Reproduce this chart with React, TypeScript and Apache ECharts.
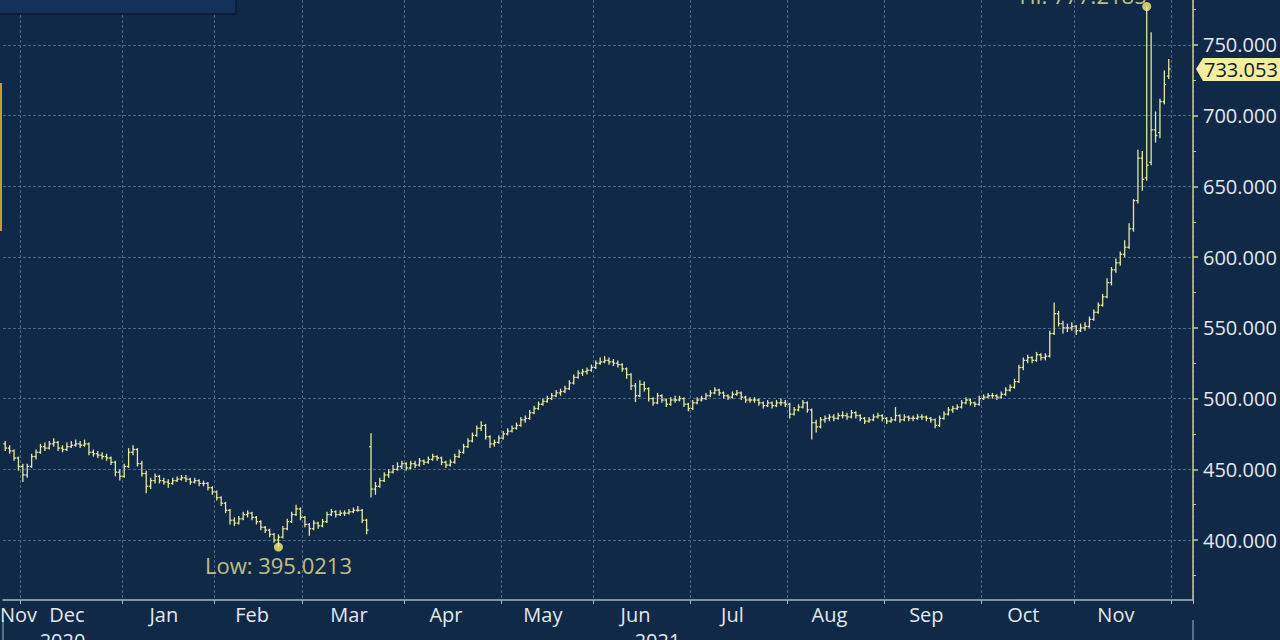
import React, { useEffect, useRef } from 'react';
import * as echarts from 'echarts';

// OHLC rows [open, high, low, close], one per trading day (weekdays)
const nov2020 = [
  [468, 470, 463, 465], [465, 467, 461, 463], [463, 464, 456, 458], [458, 459, 449, 452],
];
const dec2020 = [
  [452, 454, 441, 446], [446, 454, 444, 452], [452, 461, 451, 459], [459, 464, 457, 462],
  [462, 468, 461, 466], [466, 469, 463, 465], [465, 470, 464, 468], [468, 472, 466, 469],
  [469, 470, 463, 465], [465, 467, 462, 464], [464, 469, 463, 466], [466, 470, 465, 467],
  [467, 471, 466, 468], [468, 470, 465, 467], [467, 471, 466, 468], [468, 469, 460, 462],
  [462, 464, 459, 461], [461, 463, 458, 460], [460, 462, 457, 459], [459, 461, 456, 458],
  [458, 459, 453, 455], [455, 456, 445, 448], [448, 450, 442, 445],
];
const jan2021 = [
  [445, 454, 444, 452], [452, 465, 451, 462], [462, 467, 460, 464], [464, 465, 452, 454],
  [454, 456, 445, 447], [447, 449, 433, 438], [438, 444, 436, 442], [442, 447, 440, 445],
  [445, 446, 440, 442], [442, 444, 439, 441], [441, 443, 437, 440], [440, 444, 439, 442],
  [442, 445, 441, 443], [443, 446, 442, 444], [444, 446, 441, 443], [443, 444, 439, 441],
  [441, 444, 440, 442], [442, 443, 438, 440], [440, 442, 438, 440], [440, 441, 435, 437],
  [437, 438, 432, 434],
];
const feb2021 = [
  [434, 435, 428, 430], [430, 431, 424, 426], [426, 427, 419, 421], [421, 422, 411, 414],
  [414, 416, 410, 412], [412, 417, 411, 415], [415, 420, 414, 418], [418, 421, 416, 419],
  [419, 420, 414, 416], [416, 417, 411, 413], [413, 414, 407, 409], [409, 410, 405, 407],
  [407, 408, 402, 404], [404, 405, 398, 400], [400, 404, 395.0213, 402], [402, 410, 401, 408],
  [408, 415, 407, 413], [413, 420, 412, 418], [418, 425, 417, 422], [422, 423, 414, 416],
];
const mar2021 = [
  [416, 417, 409, 411], [411, 412, 403, 408], [408, 414, 407, 412], [412, 413, 408, 410],
  [410, 415, 409, 413], [413, 420, 412, 418], [418, 422, 417, 420], [420, 421, 416, 418],
  [418, 421, 417, 419], [419, 421, 417, 419], [419, 422, 418, 420], [420, 423, 419, 421],
  [421, 424, 420, 421], [421, 422, 412, 414], [414, 415, 404, 407], [466, 475.5, 430, 436],
  [436, 441, 432, 438], [438, 444, 437, 442], [442, 448, 441, 446], [446, 450, 444, 448],
  [448, 453, 447, 450], [450, 455, 449, 452], [452, 456, 450, 454],
];
const apr2021 = [
  [454, 455, 449, 451], [451, 456, 450, 454], [454, 456, 451, 453], [453, 458, 452, 456],
  [456, 457, 453, 455], [455, 459, 454, 457], [457, 461, 456, 459], [459, 460, 456, 458],
  [458, 459, 453, 455], [455, 456, 451, 453], [453, 457, 452, 455], [455, 461, 454, 459],
  [459, 464, 458, 462], [462, 468, 461, 466], [466, 472, 465, 470], [470, 476, 469, 474],
  [474, 481, 473, 479], [479, 484, 477, 481], [481, 482, 471, 473], [473, 474, 465, 468],
  [468, 471, 466, 469], [469, 474, 468, 472],
];
const may2021 = [
  [472, 477, 471, 475], [475, 479, 474, 477], [477, 481, 476, 479], [479, 483, 478, 481],
  [481, 487, 480, 485], [485, 488, 483, 486], [486, 492, 485, 490], [490, 495, 489, 493],
  [493, 498, 492, 496], [496, 500, 495, 498], [498, 502, 497, 500], [500, 504, 499, 502],
  [502, 506, 501, 504], [504, 507, 502, 505], [505, 509, 504, 507], [507, 513, 506, 511],
  [511, 517, 510, 515], [515, 520, 514, 518], [518, 521, 516, 519], [519, 522, 517, 520],
  [520, 524, 519, 522],
];
const jun2021 = [
  [522, 527, 521, 525], [525, 529, 524, 526], [526, 530, 525, 527], [527, 529, 524, 526],
  [526, 528, 523, 525], [525, 527, 522, 524], [524, 525, 519, 521], [521, 522, 514, 517],
  [517, 518, 506, 509], [509, 511, 497.5, 502], [502, 513, 501, 510], [510, 512, 505, 507],
  [507, 508, 498, 500], [500, 501, 495, 497], [497, 504, 496, 502], [502, 503, 497, 499],
  [499, 500, 494, 496], [496, 501, 495, 499], [499, 502, 497, 499], [499, 502, 498, 500],
  [500, 501, 494, 496], [496, 497, 491, 493],
];
const jul2021 = [
  [493, 499, 492, 497], [497, 501, 496, 499], [499, 502, 498, 500], [500, 504, 499, 502],
  [502, 506, 501, 504], [504, 508, 503, 506], [506, 507, 502, 504], [504, 505, 500, 502],
  [502, 503, 499, 501], [501, 505, 500, 503], [503, 506, 502, 504], [504, 505, 499, 501],
  [501, 502, 497, 499], [499, 501, 497, 499], [499, 501, 497, 499], [499, 500, 495, 497],
  [497, 498, 493, 495], [495, 499, 494, 497], [497, 498, 493, 495], [495, 499, 494, 497],
  [497, 500, 495, 497], [497, 499, 494, 496],
];
const aug2021 = [
  [496, 497, 486, 489], [489, 494, 488, 492], [492, 496, 491, 494], [494, 499, 493, 497],
  [497, 498, 490, 492], [492, 493, 471, 483], [483, 485, 476, 480], [480, 487, 479, 485],
  [485, 488, 483, 486], [486, 489, 484, 487], [487, 489, 484, 486], [486, 490, 485, 488],
  [488, 491, 486, 488], [488, 490, 485, 487], [487, 492, 486, 490], [490, 491, 486, 488],
  [488, 489, 484, 486], [486, 487, 482, 484], [484, 487, 483, 485], [485, 489, 484, 487],
  [487, 490, 486, 488], [488, 489, 484, 486],
];
const sep2021 = [
  [486, 487, 482, 484], [484, 487, 483, 485], [485, 494, 484, 488], [488, 489, 483, 485],
  [485, 489, 484, 487], [487, 488, 484, 486], [486, 488, 484, 486], [486, 489, 485, 487],
  [487, 489, 485, 487], [487, 488, 484, 486], [486, 487, 483, 485], [485, 486, 479, 481],
  [481, 488, 480, 486], [486, 491, 485, 489], [489, 494, 488, 492], [492, 495, 490, 493],
  [493, 496, 492, 494], [494, 499, 493, 497], [497, 501, 496, 499], [499, 500, 495, 497],
  [497, 498, 494, 496], [496, 502, 495, 500],
];
const oct2021 = [
  [500, 503, 499, 501], [501, 504, 500, 502], [502, 504, 500, 502], [502, 503, 499, 501],
  [501, 505, 500, 503], [503, 508, 502, 506], [506, 510, 505, 508], [508, 514, 507, 512],
  [512, 524, 511, 522], [522, 529, 520, 527], [527, 531, 525, 529], [529, 530, 525, 527],
  [527, 533, 526, 531], [531, 532, 527, 529], [529, 532, 527, 530], [530, 548, 529, 546],
  [546, 568, 545, 560], [560, 562, 551, 553], [553, 555, 546, 550], [550, 553, 547, 550],
  [550, 554, 548, 551],
];
const nov2021 = [
  [551, 552, 545, 548], [548, 553, 547, 550], [550, 554, 548, 551], [551, 558, 550, 556],
  [556, 563, 555, 561], [561, 568, 560, 566], [566, 574, 565, 572], [572, 585, 571, 582],
  [582, 593, 580, 591], [591, 599, 589, 596], [596, 604, 594, 602], [602, 612, 600, 607],
  [607, 624, 606, 620], [620, 641, 618, 640], [640, 676, 638, 670], [670, 675, 647, 655],
  [656, 777.2185, 654, 665], [667, 759, 665, 690], [690, 703, 681, 686], [688, 712, 684, 710],
  [710, 732, 708, 722], [728, 740, 726, 733.053],
];

const ohlcRows = [
  ...nov2020, ...dec2020, ...jan2021, ...feb2021, ...mar2021, ...apr2021,
  ...may2021, ...jun2021, ...jul2021, ...aug2021, ...sep2021, ...oct2021, ...nov2021,
];

// category range: trading days (weekdays)
const START_DATE = '2020-11-25';
const END_DATE = '2021-12-07';

const yTickValues = [400, 450, 500, 550, 600, 650, 700, 750];
const yMinorTickValues = [375, 425, 475, 525, 575, 625, 675, 725, 775];
const monthNames = ['Jan', 'Feb', 'Mar', 'Apr', 'May', 'Jun', 'Jul', 'Aug', 'Sep', 'Oct', 'Nov', 'Dec'];
const yearLabels = ['2020', '2021'];

const lowPoint = { date: '2021-02-19', value: 395.0213, label: 'Low: 395.0213' };
const highPoint = { date: '2021-11-23', value: 777.2185, label: 'Hi: 777.2185' };

const Y_MIN = 357.6;
const Y_MAX = 781.8;

const BG = '#0f2946';
const GRID_LINE = '#4a6888';
const BAR = '#e8e69c';
const AXIS_Y = '#c8d27c';
const AXIS_X = '#a6b7c8';
const TEXT = '#e2e8ee';
const FONT = '"Open Sans", "Liberation Sans", sans-serif';

function buildWeekdays(start: string, end: string): string[] {
  const out: string[] = [];
  const d = new Date(start + 'T00:00:00Z');
  const e = new Date(end + 'T00:00:00Z');
  while (d <= e) {
    const wd = d.getUTCDay();
    if (wd !== 0 && wd !== 6) out.push(d.toISOString().slice(0, 10));
    d.setUTCDate(d.getUTCDate() + 1);
  }
  return out;
}

export default function App() {
  const ref = useRef<HTMLDivElement>(null);

  useEffect(() => {
    if (!ref.current) return;
    document.body.style.margin = '0';
    document.body.style.background = BG;
    const chart = echarts.init(ref.current, undefined, { renderer: 'svg' });

    const dates = buildWeekdays(START_DATE, END_DATE);
    const lastDataIdx = ohlcRows.length - 1;

    // month groups
    const monthFirst = new Map<string, number>();
    const monthCount = new Map<string, number>();
    dates.forEach((d, i) => {
      const k = d.slice(0, 7);
      if (!monthFirst.has(k)) monthFirst.set(k, i);
      monthCount.set(k, (monthCount.get(k) || 0) + 1);
    });
    const monthStartIdx = new Set<number>();
    const monthLabelIdx = new Map<number, string>();
    const keys = Array.from(monthFirst.keys());
    keys.forEach((k, n) => {
      const first = monthFirst.get(k)!;
      const cnt = monthCount.get(k)!;
      if (first > 0) monthStartIdx.add(first);
      if (first > lastDataIdx) return; // trailing empty month: no label
      const name = monthNames[parseInt(k.slice(5, 7), 10) - 1];
      const idx = n === 0 ? first + cnt - 1 : first + Math.floor((cnt - 1) / 2) - 1;
      monthLabelIdx.set(idx, name);
    });

    // year groups
    const yearFirst = new Map<string, number>();
    const yearLast = new Map<string, number>();
    dates.forEach((d, i) => {
      const y = d.slice(0, 4);
      if (!yearFirst.has(y)) yearFirst.set(y, i);
      if (i <= lastDataIdx) yearLast.set(y, i);
    });
    const yearStartIdx = new Set<number>();
    const yearLabelIdx = new Map<number, string>();
    yearLabels.forEach((y, n) => {
      const f = yearFirst.get(y)!;
      const endIdx = yearLast.get(y)!;
      if (f > 0) yearStartIdx.add(f);
      if (n === 0) {
        yearLabelIdx.set(Math.floor(endIdx / 2), y);
      } else {
        yearLabelIdx.set(Math.floor((f + endIdx) / 2) + 3, y);
      }
    });

    const seriesData = ohlcRows.map((r, i) => [i, r[0], r[1], r[2], r[3]]);
    const lowIdx = dates.indexOf(lowPoint.date);
    const highIdx = dates.indexOf(highPoint.date);

    const option: any = {
      animation: false,
      backgroundColor: BG,
      grid: {
        left: 3, right: 87, top: 0, bottom: 40,
        containLabel: false,
        outerBoundsMode: 'none',
      },
      xAxis: [
        {
          type: 'category',
          data: dates,
          boundaryGap: true,
          axisLine: { show: true, lineStyle: { color: AXIS_X, width: 1.5 } },
          axisTick: {
            show: true,
            length: 4,
            interval: (i: number) => monthStartIdx.has(i),
            lineStyle: { color: AXIS_X, width: 1 },
          },
          axisLabel: {
            show: true,
            interval: (i: number) => monthLabelIdx.has(i),
            formatter: (_v: string, i: number) => monthLabelIdx.get(i) || '',
            color: TEXT,
            fontSize: 20,
            fontFamily: FONT,
            margin: 4,
          },
          splitLine: {
            show: true,
            interval: (i: number) => monthStartIdx.has(i),
            lineStyle: { color: GRID_LINE, width: 1, type: [3, 2] },
          },
        },
        {
          type: 'category',
          data: dates,
          boundaryGap: true,
          position: 'bottom',
          offset: 20,
          axisLine: { show: false },
          axisTick: {
            show: true,
            length: 22,
            interval: (i: number) => yearStartIdx.has(i),
            lineStyle: { color: '#6f88a2', width: 1.5 },
          },
          axisLabel: {
            show: true,
            interval: (i: number) => yearLabelIdx.has(i),
            formatter: (_v: string, i: number) => yearLabelIdx.get(i) || '',
            color: TEXT,
            fontSize: 20,
            fontFamily: FONT,
            margin: 10,
          },
          splitLine: { show: false },
        },
      ],
      yAxis: [
        {
          type: 'value',
          position: 'right',
          min: Y_MIN,
          max: Y_MAX,
          axisLine: { show: true, lineStyle: { color: AXIS_Y, width: 1.5 } },
          axisTick: {
            show: true,
            length: 5,
            customValues: yTickValues,
            lineStyle: { color: AXIS_Y, width: 1.5 },
          },
          axisLabel: {
            show: true,
            customValues: yTickValues,
            formatter: (v: number) => v.toFixed(3),
            color: TEXT,
            fontSize: 20,
            fontFamily: FONT,
            margin: 10,
          },
          splitLine: { show: true, lineStyle: { color: GRID_LINE, width: 1, type: [3, 2] } },
        },
        {
          type: 'value',
          position: 'right',
          min: Y_MIN,
          max: Y_MAX,
          axisLine: { show: false },
          axisTick: {
            show: true,
            length: 3,
            customValues: yMinorTickValues,
            lineStyle: { color: AXIS_Y, width: 1 },
          },
          axisLabel: { show: false },
          splitLine: { show: false },
        },
      ],
      series: [
        {
          type: 'custom',
          name: 'OHLC',
          xAxisIndex: 0,
          yAxisIndex: 0,
          data: seriesData,
          encode: { x: 0, y: [1, 2, 3, 4] },
          renderItem: (params: any, api: any) => {
            const idx = api.value(0);
            const x = api.coord([idx, api.value(1)])[0];
            const oy = api.coord([idx, api.value(1)])[1];
            const hy = api.coord([idx, api.value(2)])[1];
            const ly = api.coord([idx, api.value(3)])[1];
            const cy = api.coord([idx, api.value(4)])[1];
            const bw = api.size([1, 0])[0];
            const t = bw * 0.42;
            const style = { stroke: BAR, lineWidth: 1.3 };
            return {
              type: 'group',
              children: [
                { type: 'line', shape: { x1: x, y1: hy, x2: x, y2: ly }, style },
                { type: 'line', shape: { x1: x - t, y1: oy, x2: x, y2: oy }, style },
                { type: 'line', shape: { x1: x, y1: cy, x2: x + t, y2: cy }, style },
              ],
            };
          },
          z: 3,
        },
        {
          type: 'scatter',
          xAxisIndex: 0,
          yAxisIndex: 0,
          symbol: 'circle',
          symbolSize: 9,
          itemStyle: { color: '#f6f07a' },
          z: 4,
          data: [
            {
              value: [lowIdx, lowPoint.value],
              label: {
                show: true,
                position: 'bottom',
                distance: 2,
                formatter: lowPoint.label,
                color: '#ece89c',
                fontSize: 22,
                fontFamily: FONT,
              },
            },
            {
              value: [highIdx, highPoint.value],
              label: {
                show: true,
                position: 'top',
                align: 'right',
                distance: 1,
                offset: [0, 5],
                formatter: highPoint.label,
                color: '#ece89c',
                fontSize: 22,
                fontFamily: FONT,
              },
            },
          ],
        },
      ],
    };

    chart.setOption(option);

    const lastClose = ohlcRows[lastDataIdx][3];
    const ty = chart.convertToPixel({ yAxisIndex: 0 }, lastClose) as number;
    const axisX = chart.getWidth() - 87;
    chart.setOption({
      graphic: [
        {
          type: 'rect',
          shape: { x: -2, y: -2, width: 238, height: 16 },
          style: { fill: '#143257', stroke: '#0a1b33', lineWidth: 1.5 },
          z: 10,
        },
        {
          type: 'rect',
          shape: { x: 0, y: 83, width: 2, height: 148 },
          style: { fill: '#c99a30' },
          z: 10,
        },
        {
          type: 'polygon',
          shape: {
            points: [
              [axisX + 3, ty],
              [axisX + 10, ty - 11],
              [chart.getWidth() + 2, ty - 11],
              [chart.getWidth() + 2, ty + 12],
              [axisX + 10, ty + 12],
            ],
          },
          style: { fill: '#f3ee9e' },
          z: 10,
        },
        {
          type: 'text',
          x: axisX + 11,
          y: ty + 1,
          style: {
            text: lastClose.toFixed(3),
            fill: '#0f1a26',
            font: `20px ${FONT}`,
            verticalAlign: 'middle',
            align: 'left',
          },
          z: 11,
        },
      ],
    });

    return () => chart.dispose();
  }, []);

  return (
    <div
      ref={ref}
      style={{ position: 'fixed', left: 0, top: 0, width: 1280, height: 640, background: BG }}
    />
  );
}
